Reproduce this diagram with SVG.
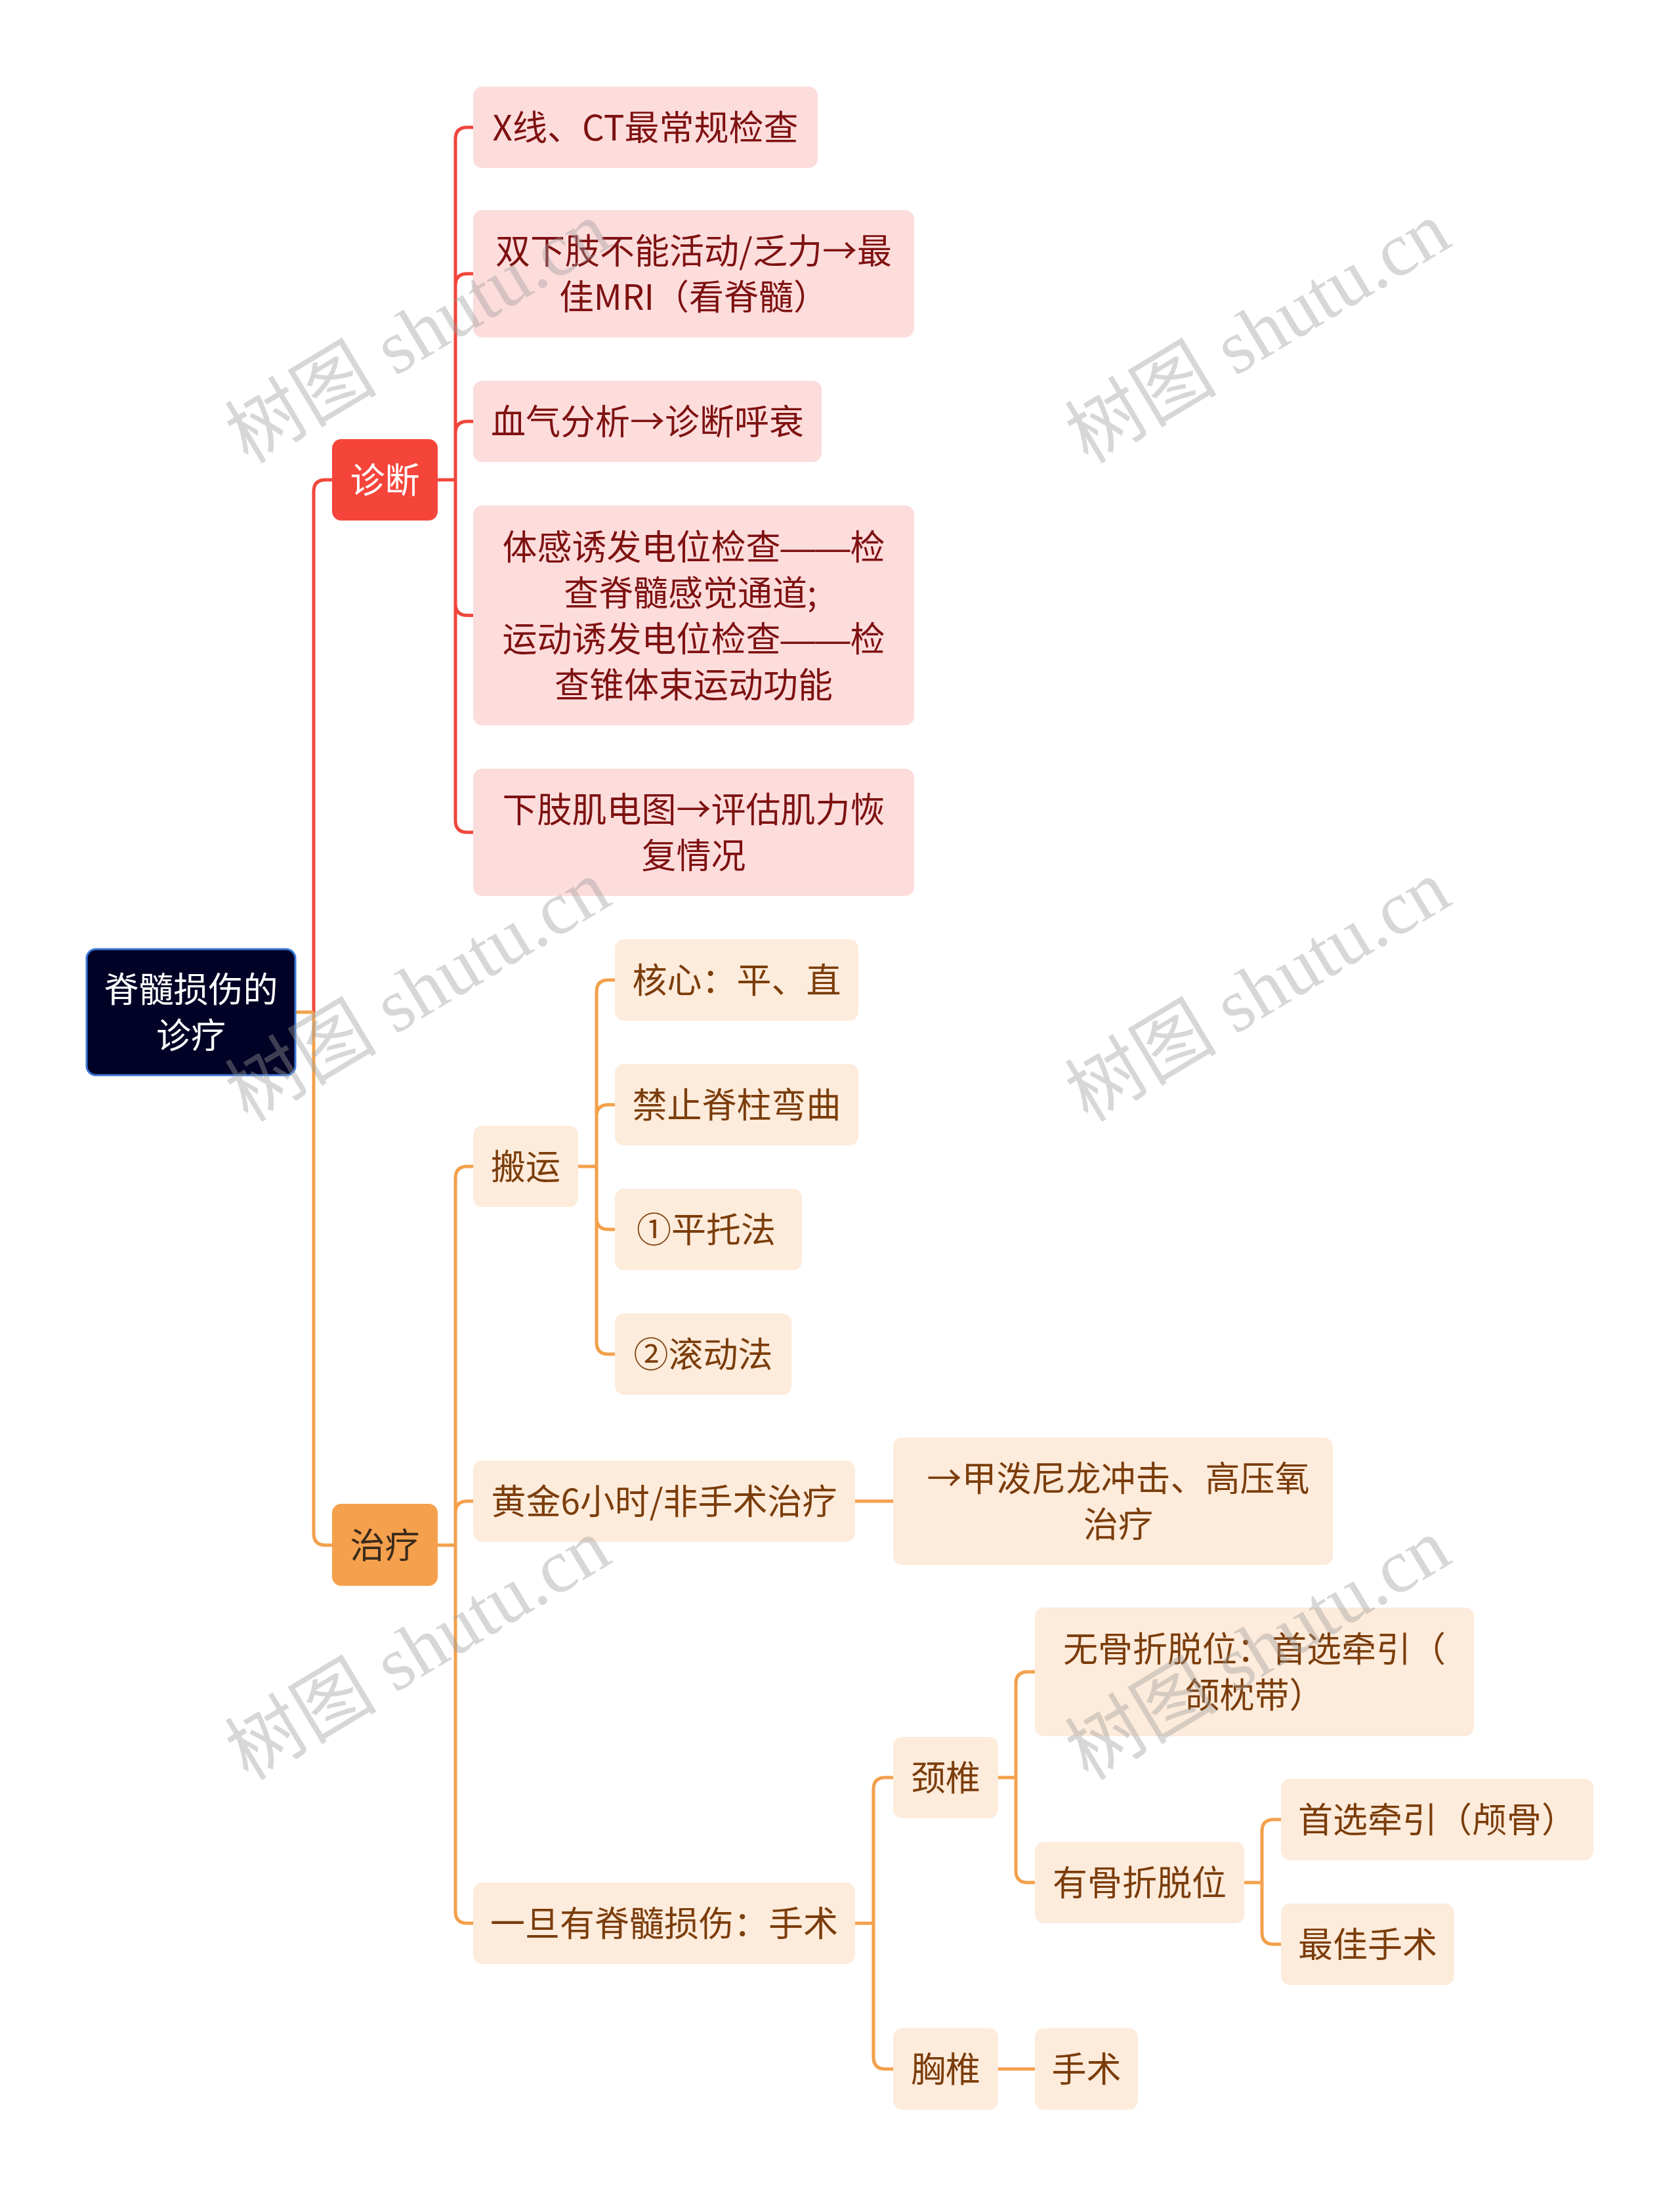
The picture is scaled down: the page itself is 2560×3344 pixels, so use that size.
<svg xmlns="http://www.w3.org/2000/svg" width="2560" height="3344" viewBox="0 0 2560 3344">
<style>
.t{font-family:"Noto Sans CJK SC","Noto Sans",sans-serif;font-size:53px;text-anchor:middle}
.dash{font-family:"Liberation Sans",sans-serif}
.pink rect{fill:#fddcdc}
.pink text{fill:#7e1111}
.peach rect{fill:#fdebdb}
.peach text{fill:#7b3d0b}
.red{stroke:#f0463c;stroke-width:5;fill:none}
.org{stroke:#f3a04c;stroke-width:5;fill:none}
.wm{font-family:"Liberation Serif","Noto Sans CJK SC",serif;font-size:116px;fill:#9a9a9a;fill-opacity:0.4}
</style>
<rect width="2560" height="3344" fill="#ffffff"/>
<g id="connectors" stroke-linecap="butt">
<path class="red" d="M478,1542 V749 Q478,731 496,731 H506"/>
<path class="org" d="M450,1542 H478 M478,1542 V2336 Q478,2354 496,2354 H506"/>
<path class="red" d="M667,731 H694 M694,731 V212 Q694,194 712,194 H721 M694,731 V435 Q694,417 712,417 H721 M694,731 V660 Q694,642 712,642 H721 M694,731 V919.5 Q694,937.5 712,937.5 H721 M694,731 V1250 Q694,1268 712,1268 H721"/>
<path class="org" d="M667,2354 H694 M694,2354 V1795 Q694,1777 712,1777 H721 M694,2354 V2305 Q694,2287 712,2287 H721 M694,2354 V2912 Q694,2930 712,2930 H721"/>
<path class="org" d="M881,1777 H909 M909,1777 V1511 Q909,1493 927,1493 H937 M909,1777 V1701 Q909,1683 927,1683 H937 M909,1777 V1855 Q909,1873 927,1873 H937 M909,1777 V2045 Q909,2063 927,2063 H937"/>
<path class="org" d="M1303,2287 H1361"/>
<path class="org" d="M1303,2930 H1331 M1331,2930 V2726 Q1331,2708 1349,2708 H1361 M1331,2930 V3134 Q1331,3152 1349,3152 H1361"/>
<path class="org" d="M1521,2708 H1548 M1548,2708 V2565 Q1548,2547 1566,2547 H1577 M1548,2708 V2850 Q1548,2868 1566,2868 H1577"/>
<path class="org" d="M1896,2868 H1923 M1923,2868 V2790 Q1923,2772 1941,2772 H1952 M1923,2868 V2944 Q1923,2962 1941,2962 H1952"/>
<path class="org" d="M1521,3152 H1577"/>
</g>
<g id="root">
<rect x="132" y="1446" width="318" height="192" rx="14" fill="#020226" stroke="#3c78d8" stroke-width="3"/>
<text class="t" x="291" y="1527" fill="#ffffff">脊髓损伤的</text>
<text class="t" x="291" y="1597" fill="#ffffff">诊疗</text>
</g>
<g id="diag">
<rect x="506" y="669" width="161" height="124" rx="14" fill="#f5453b"/>
<text class="t" x="586.5" y="751" fill="#ffffff">诊断</text>
</g>
<g id="treat">
<rect x="506" y="2291" width="161" height="125" rx="14" fill="#f5a04d"/>
<text class="t" x="586.5" y="2374" fill="#3a2a1c">治疗</text>
</g>
<g id="d1" class="pink"><rect x="721" y="132" width="525" height="124" rx="14"/><text class="t" x="983.5" y="214">X线、CT最常规检查</text></g>
<g id="d2" class="pink"><rect x="721" y="320" width="672" height="194" rx="14"/><text class="t" x="1057" y="402">双下肢不能活动/乏力→最</text><text class="t" x="1057" y="472">佳MRI（看脊髓）</text></g>
<g id="d3" class="pink"><rect x="721" y="580" width="531" height="124" rx="14"/><text class="t" x="986.5" y="662">血气分析→诊断呼衰</text></g>
<g id="d4" class="pink"><rect x="721" y="770" width="672" height="335" rx="14"/><text class="t" x="1057" y="852.5">体感诱发电位检查<tspan class="dash">——</tspan>检</text><text class="t" x="1052" y="922.5">查脊髓感觉通道;</text><text class="t" x="1057" y="992.5">运动诱发电位检查<tspan class="dash">——</tspan>检</text><text class="t" x="1057" y="1062.5">查锥体束运动功能</text></g>
<g id="d5" class="pink"><rect x="721" y="1171" width="672" height="194" rx="14"/><text class="t" x="1057" y="1253">下肢肌电图→评估肌力恢</text><text class="t" x="1057" y="1323">复情况</text></g>
<g id="t1" class="peach"><rect x="721" y="1715" width="160" height="124" rx="14"/><text class="t" x="801" y="1797">搬运</text></g>
<g id="t2" class="peach"><rect x="721" y="2225" width="582" height="124" rx="14"/><text class="t" x="1012" y="2307">黄金6小时/非手术治疗</text></g>
<g id="t3" class="peach"><rect x="721" y="2868" width="582" height="124" rx="14"/><text class="t" x="1012" y="2950">一旦有脊髓损伤：手术</text></g>
<g id="b1" class="peach"><rect x="937" y="1431" width="371" height="124" rx="14"/><text class="t" x="1122.5" y="1513">核心：平、直</text></g>
<g id="b2" class="peach"><rect x="937" y="1621" width="371" height="124" rx="14"/><text class="t" x="1122.5" y="1703">禁止脊柱弯曲</text></g>
<g id="b3" class="peach"><rect x="937" y="1811" width="285" height="124" rx="14"/><text class="t" x="1076" y="1893">①平托法</text></g>
<g id="b4" class="peach"><rect x="937" y="2001" width="269" height="124" rx="14"/><text class="t" x="1071.5" y="2083">②滚动法</text></g>
<g id="g1" class="peach"><rect x="1361" y="2190" width="670" height="194" rx="14"/><text class="t" x="1704" y="2272">→甲泼尼龙冲击、高压氧</text><text class="t" x="1704" y="2342">治疗</text></g>
<g id="s1" class="peach"><rect x="1361" y="2646" width="160" height="124" rx="14"/><text class="t" x="1441" y="2728">颈椎</text></g>
<g id="s2" class="peach"><rect x="1361" y="3090" width="160" height="124" rx="14"/><text class="t" x="1441" y="3172">胸椎</text></g>
<g id="n1" class="peach"><rect x="1577" y="2449" width="669" height="196" rx="14"/><text class="t" x="1911.5" y="2532">无骨折脱位：首选牵引（</text><text class="t" x="1911.5" y="2602">颌枕带）</text></g>
<g id="n2" class="peach"><rect x="1577" y="2806" width="319" height="124" rx="14"/><text class="t" x="1736.5" y="2888">有骨折脱位</text></g>
<g id="f1" class="peach"><rect x="1952" y="2710" width="476" height="124" rx="14"/><text class="t" x="2190" y="2792">首选牵引（颅骨）</text></g>
<g id="f2" class="peach"><rect x="1952" y="2900" width="264" height="124" rx="14"/><text class="t" x="2084" y="2982">最佳手术</text></g>
<g id="x1" class="peach"><rect x="1577" y="3090" width="157" height="124" rx="14"/><text class="t" x="1655.5" y="3172">手术</text></g>
<g id="watermark">
<text class="wm" x="378" y="708" transform="rotate(-31 378 708)">树图 shutu.cn</text>
<text class="wm" x="1658" y="708" transform="rotate(-31 1658 708)">树图 shutu.cn</text>
<text class="wm" x="378" y="1711" transform="rotate(-31 378 1711)">树图 shutu.cn</text>
<text class="wm" x="1658" y="1711" transform="rotate(-31 1658 1711)">树图 shutu.cn</text>
<text class="wm" x="378" y="2714" transform="rotate(-31 378 2714)">树图 shutu.cn</text>
<text class="wm" x="1658" y="2714" transform="rotate(-31 1658 2714)">树图 shutu.cn</text>
<text class="wm" x="378" y="3717" transform="rotate(-31 378 3717)">树图 shutu.cn</text>
<text class="wm" x="1658" y="3717" transform="rotate(-31 1658 3717)">树图 shutu.cn</text>
</g>
</svg>
